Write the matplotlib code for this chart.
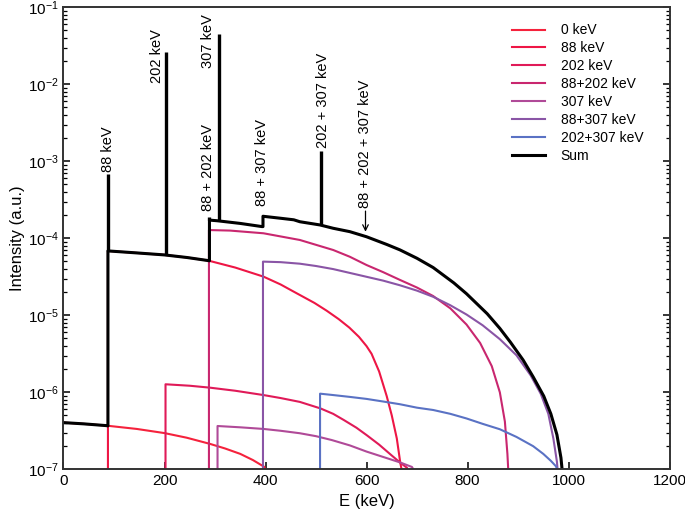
import matplotlib
matplotlib.use('Agg')
import matplotlib.pyplot as plt
from matplotlib.ticker import NullFormatter, LogLocator
import numpy as np

plt.rcParams['font.family'] = ['Liberation Sans', 'DejaVu Sans']
plt.rcParams['mathtext.fontset'] = 'custom'
plt.rcParams['mathtext.rm'] = 'Liberation Sans'
plt.rcParams['mathtext.it'] = 'Liberation Sans'

# branches: energy (keV) and log10 of intensity (a.u.)
e_0 = [0, 40, 85, 145, 200, 244, 290, 320, 350, 375, 398, 400]
lg_0 = [-6.394, -6.41, -6.433, -6.476, -6.53, -6.59, -6.67, -6.73, -6.80, -6.88, -6.97, -7.05]

e_88 = [88, 145, 200, 245, 287, 340, 396, 430, 455, 497, 521, 545, 566, 585, 600,
        610, 625, 640, 650, 660, 667, 671]
lg_88 = [-4.164, -4.19, -4.216, -4.25, -4.29, -4.38, -4.498, -4.6, -4.69, -4.84, -4.94,
         -5.05, -5.16, -5.28, -5.40, -5.5, -5.73, -6.05, -6.3, -6.6, -6.92, -7.05]

e_202 = [202, 250, 290, 340, 396, 430, 468, 509, 534, 555, 580, 601, 625, 648, 666, 680, 686]
lg_202 = [-5.896, -5.915, -5.94, -5.98, -6.036, -6.075, -6.125, -6.21, -6.28, -6.36,
          -6.46, -6.56, -6.68, -6.81, -6.91, -6.98, -7.05]

e_88_202 = [288, 330, 396, 468, 534, 567, 600, 633, 666, 700, 732, 766, 798, 825, 848,
            864, 874, 879, 881]
lg_88_202 = [-3.893, -3.90, -3.935, -4.022, -4.152, -4.24, -4.347, -4.44, -4.54, -4.64,
             -4.75, -4.91, -5.12, -5.36, -5.66, -6.0, -6.38, -6.8, -7.05]

e_307 = [305, 350, 396, 430, 468, 500, 531, 567, 600, 633, 666, 690, 697]
lg_307 = [-6.438, -6.455, -6.476, -6.50, -6.532, -6.57, -6.62, -6.69, -6.77, -6.84,
          -6.91, -6.97, -7.05]

e_88_307 = [395, 430, 468, 500, 534, 567, 600, 633, 666, 700, 732, 766, 798, 830, 864,
            897, 925, 945, 960, 970, 977, 979]
lg_88_307 = [-4.303, -4.31, -4.33, -4.36, -4.40, -4.45, -4.50, -4.55, -4.61, -4.68,
             -4.76, -4.87, -4.99, -5.13, -5.31, -5.52, -5.78, -6.02, -6.28, -6.6, -6.9, -7.05]

e_202_307 = [508, 534, 567, 600, 633, 666, 700, 732, 766, 798, 830, 864, 897, 930, 950,
             965, 975, 981]
lg_202_307 = [-6.018, -6.036, -6.06, -6.086, -6.12, -6.155, -6.2, -6.23, -6.28, -6.34,
              -6.41, -6.48, -6.58, -6.70, -6.80, -6.89, -6.96, -7.05]

e_sum = [0, 40, 85, 88, 88, 145, 200, 245, 287, 289, 289, 304, 350, 393, 395, 395, 430,
         456, 468, 508, 534, 567, 600, 640, 666, 700, 732, 773, 798, 839, 864, 885, 910,
         930, 951, 965, 977, 985, 988]
lg_sum = [-6.394, -6.41, -6.433, -6.436, -4.164, -4.19, -4.216, -4.25, -4.29, -4.292,
          -3.764, -3.772, -3.807, -3.848, -3.848, -3.714, -3.74, -3.76, -3.785, -3.827,
          -3.87, -3.914, -3.98, -4.08, -4.15, -4.26, -4.38, -4.58, -4.72, -4.98, -5.17,
          -5.35, -5.58, -5.80, -6.05, -6.28, -6.55, -6.85, -7.05]

# gamma lines sitting on the sum spectrum
peak_e = [88, 202, 289, 307, 509]
peak_base = [6.85e-5, 6.08e-5, 1.72e-4, 1.69e-4, 1.49e-4]
peak_top = [6.8e-4, 2.6e-2, 1.9e-4, 4.5e-2, 1.37e-3]

labels = ['0 keV', '88 keV', '202 keV', '88+202 keV', '307 keV', '88+307 keV', '202+307 keV']
colors = ['#f5223c', '#ee1645', '#e01a58', '#c9276f', '#b04a98', '#8a55a6', '#5a72c4']
series = [(e_0, lg_0), (e_88, lg_88), (e_202, lg_202), (e_88_202, lg_88_202),
          (e_307, lg_307), (e_88_307, lg_88_307), (e_202_307, lg_202_307)]

fig = plt.figure(figsize=(6.85, 5.17), dpi=100)
ax = fig.add_axes([0.0927, 0.0923, 0.8847, 0.8936])

floor = -7.05
for (e, lg), lab, c in zip(series, labels, colors):
    x, y = np.asarray(e, float), np.asarray(lg, float)
    if e[0] > 0:
        # each branch switches on with a vertical edge
        x = np.r_[e[0], x]
        y = np.r_[floor, y]
    ax.plot(x, 10.0 ** y, color=c, lw=1.5, label=lab)

ax.plot(e_sum, 10.0 ** np.asarray(lg_sum), color='black', lw=2.2, label='Sum')
ax.vlines(peak_e, peak_base, peak_top, color='black', lw=2.4)

txt = dict(rotation=90, ha='center', va='bottom', fontsize=10.5)
ax.text(88, 7.3e-4, '88 keV', **txt)
ax.text(186, 1.05e-2, '202 keV', **txt)
ax.text(287, 1.63e-2, '307 keV', **txt)
ax.text(287, 2.27e-4, '88 + 202 keV', **txt)
ax.text(394, 2.64e-4, '88 + 307 keV', **txt)
ax.text(513, 1.5e-3, '202 + 307 keV', **txt)
ax.text(598, 2.49e-4, '88 + 202 + 307 keV', **txt)
ax.annotate('', xy=(598, 1.12e-4), xytext=(598, 2.45e-4),
            arrowprops=dict(arrowstyle='->', color='black', lw=0.9))

ax.set_yscale('log')
ax.set_xlim(0, 1200)
ax.set_ylim(1e-7, 1e-1)
ax.set_xticks(range(0, 1201, 200))
ax.set_yticks([1e-7, 1e-6, 1e-5, 1e-4, 1e-3, 1e-2, 1e-1])
ax.yaxis.set_minor_locator(LogLocator(base=10, subs=np.arange(2, 10)))
ax.yaxis.set_minor_formatter(NullFormatter())
ax.set_xlabel('E (keV)', fontsize=12, labelpad=4)
ax.set_ylabel('Intensity (a.u.)', fontsize=12, labelpad=2)

ax.tick_params(which='both', direction='in', right=True, top=False, labelsize=11)
ax.tick_params(which='major', length=5, width=1.1)
ax.tick_params(which='minor', length=3, width=0.9)
for s in ax.spines.values():
    s.set_linewidth(1.4)
    s.set_color('#333333')

ax.legend(loc='upper left', bbox_to_anchor=(0.74, 0.965), frameon=False,
          fontsize=10, handlelength=2.4, handletextpad=1.1, labelspacing=0.28,
          borderpad=0, borderaxespad=0)

fig.savefig('out.png', dpi=100)
